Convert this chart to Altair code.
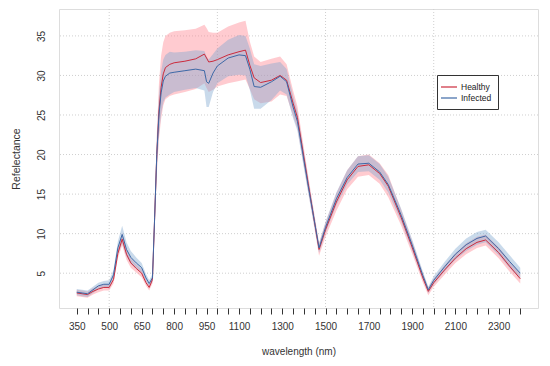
import altair as alt
import pandas as pd

# wavelengths (nm)
wl = [350, 375, 400, 425, 450, 475, 500, 520, 540, 560, 580, 600, 625, 650, 670, 685,
      700, 710, 720, 730, 740, 750, 760, 780, 800, 850, 900, 940, 950, 960, 980, 1000,
      1050, 1100, 1130, 1150, 1170, 1200, 1250, 1290, 1320, 1350, 1370, 1420, 1470,
      1500, 1550, 1600, 1650, 1700, 1750, 1790, 1850, 1900, 1950, 1975, 2000, 2050,
      2100, 2150, 2200, 2240, 2300, 2350, 2400]

healthy_mean = [2.5, 2.4, 2.3, 2.7, 3.0, 3.2, 3.2, 4.2, 7.5, 9.3, 7.4, 6.3, 5.6, 5.0, 3.8, 3.2,
                4.2, 12.0, 20.0, 25.5, 28.5, 30.2, 31.0, 31.4, 31.6, 31.8, 32.1, 32.7, 32.2, 31.7, 31.8, 32.0,
                32.6, 33.0, 33.2, 31.3, 29.7, 29.1, 29.4, 30.0, 29.4, 26.5, 24.7, 16.3, 8.0,
                10.5, 14.0, 16.8, 18.5, 18.7, 17.6, 16.0, 12.0, 8.3, 4.4, 2.7, 3.8, 5.4,
                6.9, 8.1, 8.9, 9.2, 7.6, 5.9, 4.3]

infected_mean = [2.6, 2.5, 2.4, 2.9, 3.4, 3.6, 3.6, 4.8, 8.2, 9.9, 8.0, 7.0, 6.3, 5.7, 4.4, 3.7,
                 4.4, 12.0, 20.0, 25.0, 27.8, 29.3, 29.9, 30.3, 30.4, 30.6, 30.8, 30.6, 29.2, 29.0, 30.3, 31.2,
                 32.2, 32.6, 32.5, 30.8, 28.6, 28.5, 29.2, 29.9, 29.2, 26.0, 24.2, 16.0, 8.2,
                 10.8, 14.4, 17.1, 18.8, 18.9, 17.8, 16.2, 12.3, 8.6, 4.7, 2.9, 4.1, 5.8,
                 7.4, 8.6, 9.4, 9.7, 8.1, 6.5, 5.0]

healthy_hw = [0.4, 0.4, 0.4, 0.4, 0.4, 0.4, 0.4, 0.5, 0.6, 0.8, 0.7, 0.6, 0.5, 0.5, 0.4, 0.4,
              0.5, 1.5, 2.5, 3.5, 4.0, 4.0, 4.0, 4.0, 4.0, 3.9, 3.8, 3.7, 3.8, 3.8, 3.6, 3.4,
              3.6, 3.7, 3.7, 3.0, 2.7, 2.6, 2.7, 2.4, 2.0, 1.6, 1.4, 1.0, 0.8,
              0.9, 1.1, 1.2, 1.3, 1.3, 1.3, 1.4, 1.0, 0.8, 0.6, 0.5, 0.5, 0.6,
              0.6, 0.7, 0.7, 0.7, 0.7, 0.7, 0.6]

infected_hw = [0.4, 0.4, 0.4, 0.4, 0.4, 0.4, 0.5, 0.6, 0.8, 1.1, 0.9, 0.8, 0.7, 0.6, 0.5, 0.4,
               0.5, 1.2, 2.0, 2.5, 2.7, 2.7, 2.7, 2.7, 2.5, 2.4, 2.4, 2.5, 3.2, 3.0, 2.4, 2.2,
               2.3, 2.5, 2.5, 2.6, 2.8, 2.7, 2.3, 1.8, 1.6, 1.4, 1.2, 0.9, 0.6,
               0.7, 0.8, 0.9, 1.0, 1.0, 1.0, 1.0, 0.8, 0.7, 0.5, 0.4, 0.5, 0.6,
               0.7, 0.8, 0.8, 0.8, 0.8, 0.8, 0.7]

groups = ["Healthy", "Infected"]
x_ticks = list(range(350, 2401, 50))
x_labels = [350, 500, 650, 800, 950, 1100, 1300, 1500, 1700, 1900, 2100, 2300]
y_ticks = [5, 10, 15, 20, 25, 30, 35]
x_grid = [500, 1000, 1500, 2000]

rows = []
for g, m, h in [("Healthy", healthy_mean, healthy_hw), ("Infected", infected_mean, infected_hw)]:
    for w, v, d in zip(wl, m, h):
        rows.append({"wl": w, "group": g, "mean": v, "lo": v - d, "hi": v + d})
df = pd.DataFrame(rows)

FONT = "Liberation Sans"
xscale = alt.Scale(domain=[268, 2482], nice=False, zero=False)
yscale = alt.Scale(domain=[0.6, 38.4], nice=False, zero=False)

label_list = ",".join(str(v) for v in x_labels)
xaxis = alt.Axis(values=x_ticks, format="d",
                 labelExpr=f"indexof([{label_list}], datum.value) >= 0 ? datum.label : ''",
                 grid=False, domain=False, tickSize=6, tickColor="#333", labelColor="#333",
                 labelFontSize=10, labelPadding=7, title="wavelength (nm)", titleFontSize=10,
                 titleFontWeight="normal", titleColor="#333", titlePadding=15, labelFont=FONT, titleFont=FONT,
                 labelFlush=False, labelOverlap=False)
yaxis = alt.Axis(values=y_ticks, format="d", grid=False, domain=False, ticks=False, labelAngle=-90,
                 labelColor="#333", labelFontSize=10, labelPadding=13, title="Refelectance",
                 titleFontSize=10.5, titleFontWeight="normal", titleColor="#333", titlePadding=15,
                 labelFont=FONT, titleFont=FONT)

X = lambda f: alt.X(f, scale=xscale, axis=xaxis)
Y = lambda f: alt.Y(f, scale=yscale, axis=yaxis)

base = alt.Chart(df)

vgrid = alt.Chart(pd.DataFrame({"x": x_grid})).mark_rule(
    color="#cfcfcf", strokeDash=[1, 2], strokeWidth=1
).encode(x=X("x:Q"))

hgrid = alt.Chart(pd.DataFrame({"y": y_ticks})).mark_rule(
    color="#cfcfcf", strokeDash=[1, 2], strokeWidth=1
).encode(y=Y("y:Q"))

band_h = base.transform_filter(alt.datum.group == "Healthy").mark_area(
    fill="#ff8c96", opacity=0.45
).encode(x=X("wl:Q"), y=Y("lo:Q"), y2="hi:Q")

band_i = base.transform_filter(alt.datum.group == "Infected").mark_area(
    fill="#7fa8d0", opacity=0.42
).encode(x=X("wl:Q"), y=Y("lo:Q"), y2="hi:Q")

lines = base.mark_line(strokeWidth=1).encode(
    x=X("wl:Q"),
    y=Y("mean:Q"),
    color=alt.Color("group:N", sort=groups,
                    scale=alt.Scale(domain=groups, range=["#cc2a3c", "#3d68a6"]),
                    legend=alt.Legend(title=None, orient="none", legendX=378, legendY=66,
                                      symbolType="M-1.6,0H1.6", symbolSize=100,
                                      symbolStrokeWidth=1.2, labelFontSize=8.5, labelFont=FONT,
                                      labelColor="#222", strokeColor="#333", fillColor="white",
                                      padding=6, rowPadding=0, labelOffset=6)),
    order=alt.Order("group:N", sort="descending"),
)

chart = alt.layer(vgrid, hgrid, band_h, band_i, lines).properties(
    width=479, height=299,
    autosize=alt.AutoSizeParams(type="none"),
    padding={"left": 51, "top": 1, "right": 4, "bottom": 50},
).configure_view(stroke="#444", strokeWidth=1).configure_axis(grid=False).configure(background="white")

chart.save("out.html", embed_options={"renderer": "svg", "actions": False})
